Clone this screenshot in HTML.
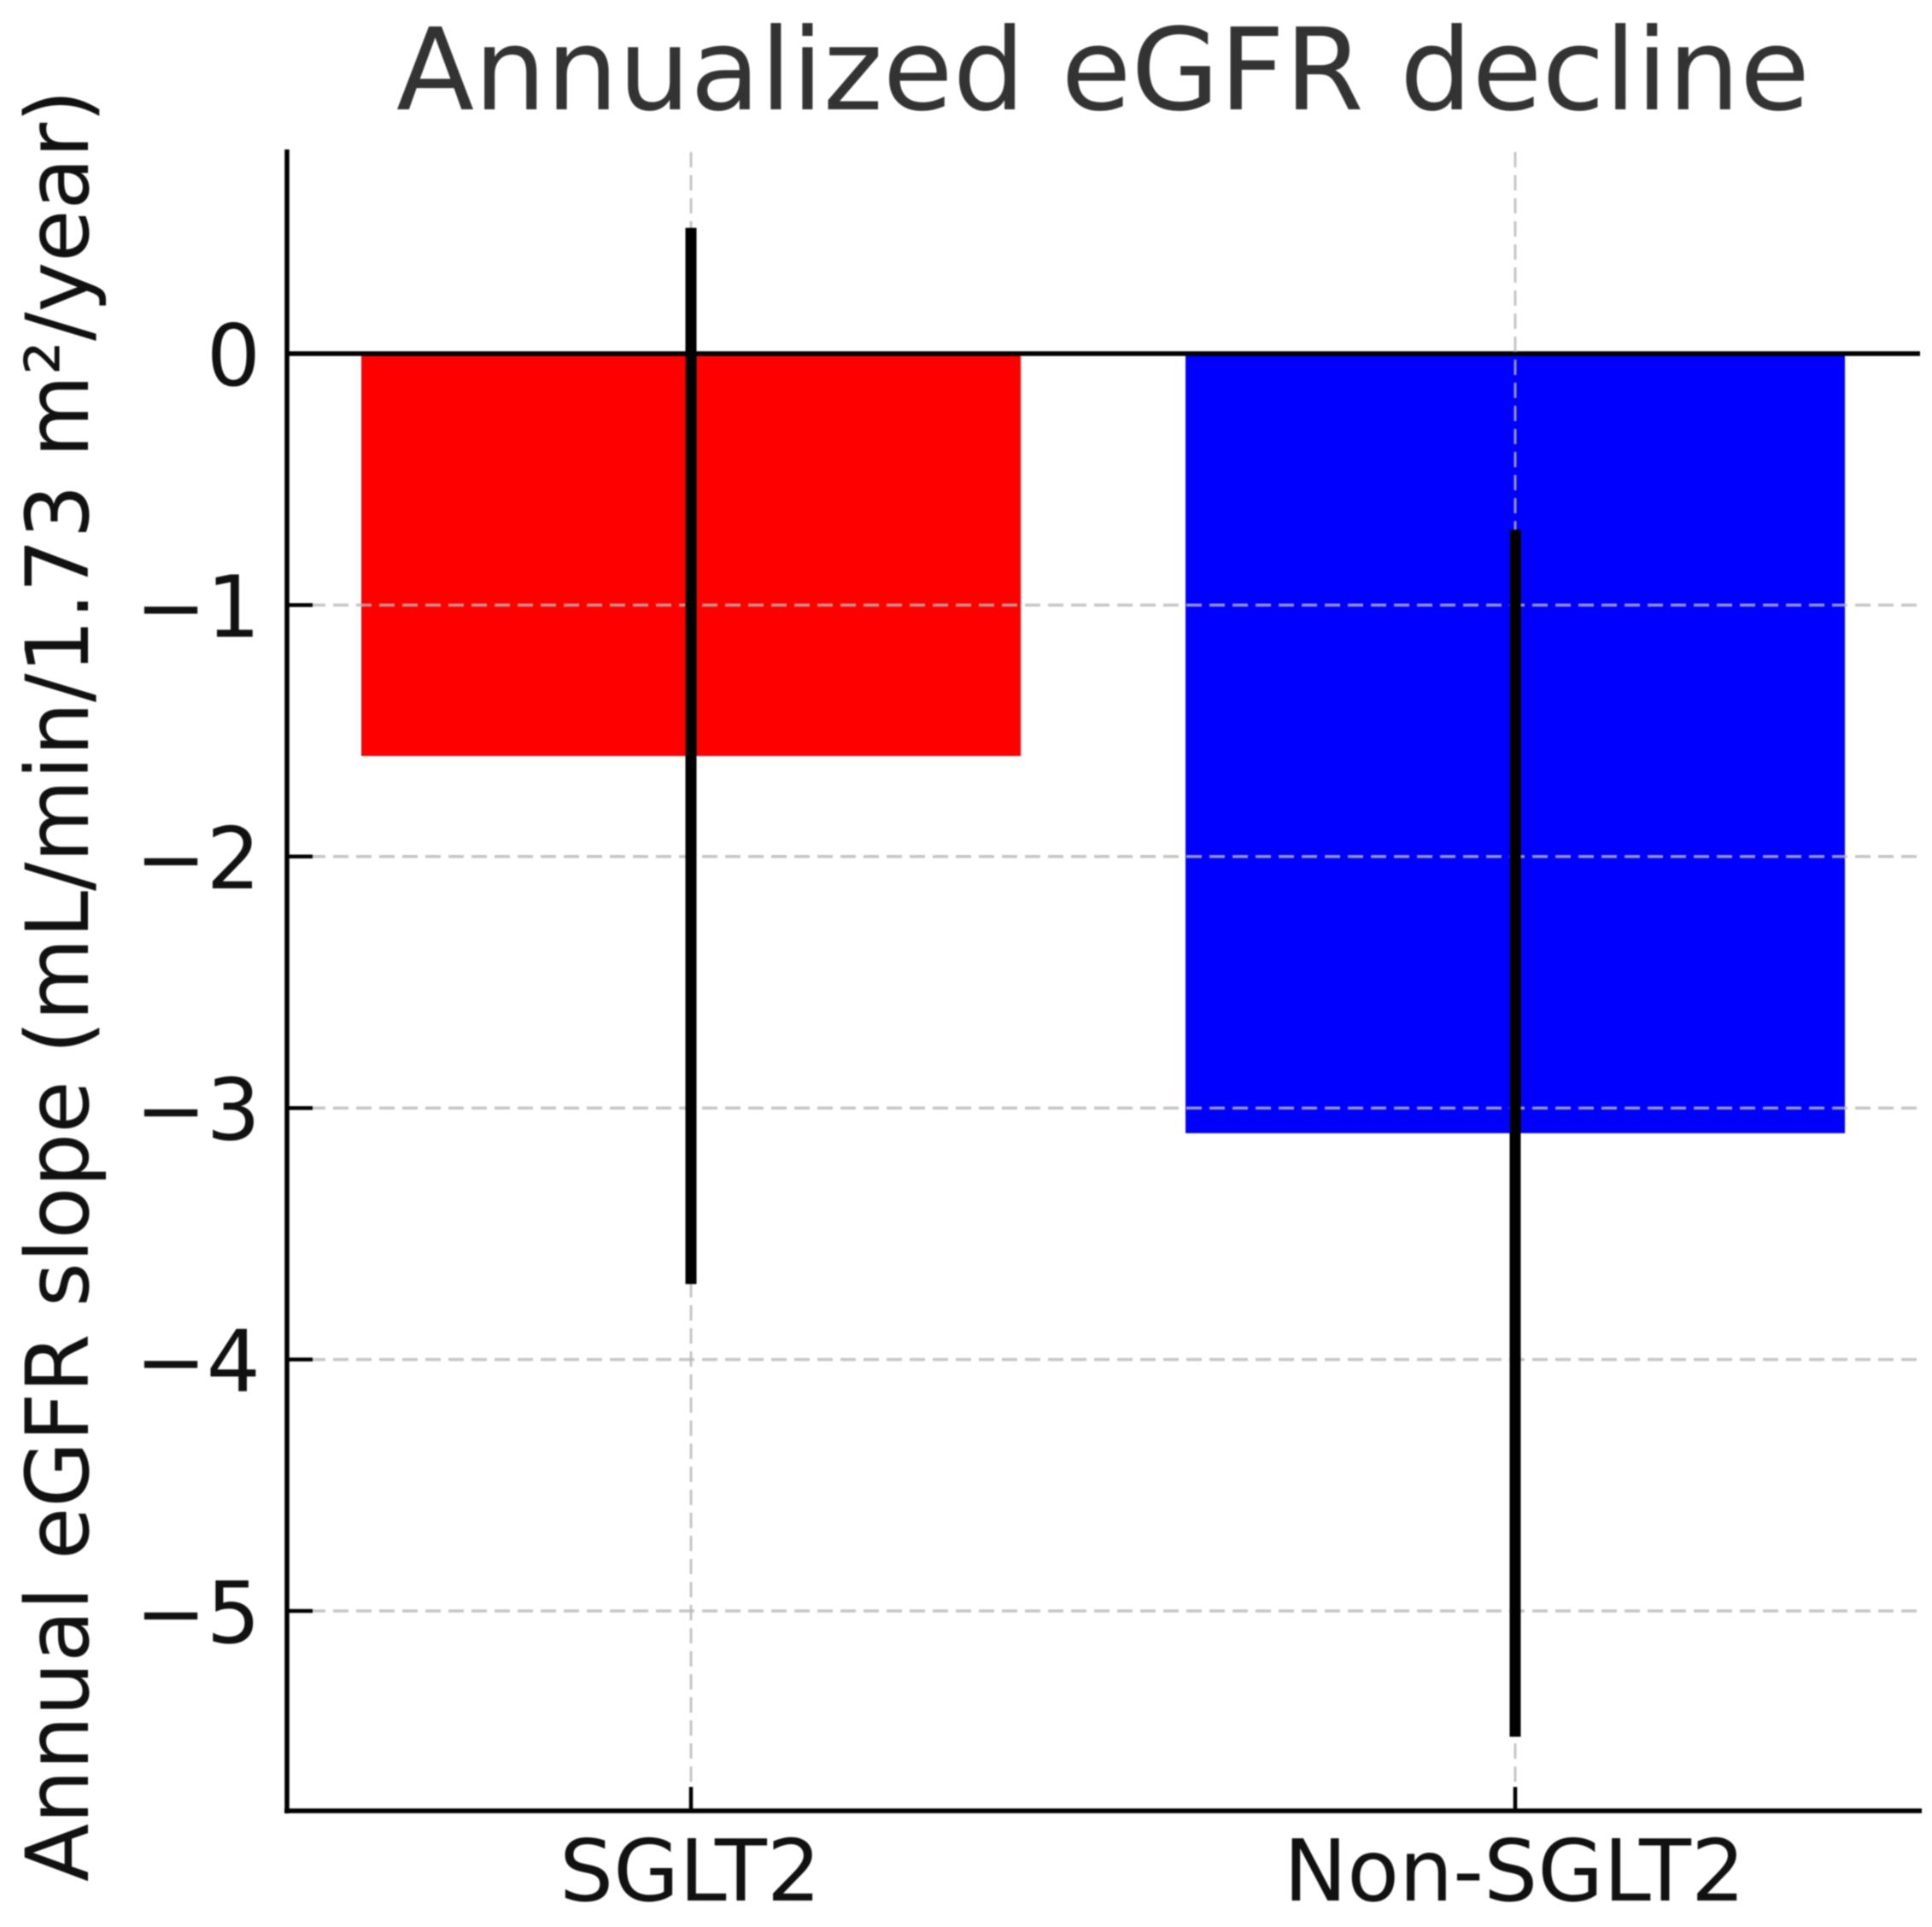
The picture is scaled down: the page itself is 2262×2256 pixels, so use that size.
<!DOCTYPE html>
<html lang="en">
<head>
<meta charset="utf-8">
<title>Annualized eGFR decline</title>
<style>
html,body{margin:0;padding:0;background:#fff;}
svg{display:block;filter:blur(0.7px);}
text{font-family:"DejaVu Sans","Liberation Sans",sans-serif;}
</style>
</head>
<body>
<svg id="chart" xmlns="http://www.w3.org/2000/svg" width="2262" height="2256" viewBox="0 0 2262 2256">
  <rect x="0" y="0" width="2262" height="2256" fill="#ffffff"/>
  <g id="bars"></g>
  <line x1="336" y1="414" x2="2248" y2="414" stroke="#000" stroke-width="5.5"/>
  <g id="grid"></g>
  <g id="errors"></g>
  <g id="ticks"></g>
  <line x1="336" y1="175" x2="336" y2="2123" stroke="#000" stroke-width="5.5"/>
  <line x1="333" y1="2120" x2="2250" y2="2120" stroke="#000" stroke-width="5.5"/>
  <g id="labels"></g>
  <text x="464" y="128" font-size="133" fill="#333333" textLength="1655" lengthAdjust="spacingAndGlyphs">Annualized eGFR decline</text>
  <text transform="translate(103,2203) rotate(-90)" x="0" y="0" font-size="102" fill="#111111" textLength="2098" lengthAdjust="spacingAndGlyphs">Annual eGFR slope (mL/min/1.73 m²/year)</text>
</svg>
<script>
const categories = ['SGLT2', 'Non-SGLT2'];
const slopeValues = [-1.6, -3.1];
const errorLow = [-3.7, -5.5];
const errorHigh = [0.5, -0.7];
const barColors = ['#ff0000', '#0000ff'];
const yTickValues = [0, -1, -2, -3, -4, -5];
const yTickLabels = ['0', '\u22121', '\u22122', '\u22123', '\u22124', '\u22125'];

const NS = 'http://www.w3.org/2000/svg';
const plotLeft = 336, plotRight = 2250, plotTop = 178, plotBottom = 2120;
const barWidthUnits = 0.8;

function xScale(i) { return 809 + 965 * i; }
function yScale(v) { return 414 - 294.4 * v; }

function make(tag, attrs, parent) {
  const el = document.createElementNS(NS, tag);
  for (const k in attrs) el.setAttribute(k, attrs[k]);
  parent.appendChild(el);
  return el;
}

const barsG = document.getElementById('bars');
const gridG = document.getElementById('grid');
const errorsG = document.getElementById('errors');
const ticksG = document.getElementById('ticks');
const labelsG = document.getElementById('labels');

categories.forEach(function (cat, i) {
  const halfW = barWidthUnits / 2 * 965;
  const y0 = yScale(0), y1 = yScale(slopeValues[i]);
  const bar = make('rect', {
    x: xScale(i) - halfW, y: Math.min(y0, y1),
    width: halfW * 2, height: Math.abs(y1 - y0), fill: barColors[i]
  }, barsG);
  
  

  const grid = make('line', {
    x1: xScale(i), x2: xScale(i), y1: plotTop, y2: plotBottom,
    stroke: '#b8b8b8', 'stroke-opacity': 0.8, 'stroke-width': 3, 'stroke-dasharray': '18 9'
  }, gridG);
  
  

  const err = make('line', {
    x1: xScale(i), x2: xScale(i), y1: yScale(errorHigh[i]), y2: yScale(errorLow[i]),
    stroke: '#000', 'stroke-width': 13
  }, errorsG);
  
  

  const tick = make('line', {
    x1: xScale(i), x2: xScale(i), y1: plotBottom - 28, y2: plotBottom,
    stroke: '#000', 'stroke-width': 4.5
  }, ticksG);
  
  

  const label = make('text', {
    x: xScale(i) - 1, y: 2225, 'text-anchor': 'middle', 'font-size': 99.5, fill: '#111111'
  }, labelsG);
  label.textContent = cat;
  
  
});

yTickValues.forEach(function (v, i) {
  if (v !== 0) {
    const grid = make('line', {
      x1: plotLeft, x2: plotRight, y1: yScale(v), y2: yScale(v),
      stroke: '#b8b8b8', 'stroke-opacity': 0.8, 'stroke-width': 3.5, 'stroke-dasharray': '18 9'
    }, gridG);
    
    

    const tick = make('line', {
      x1: plotLeft, x2: plotLeft + 30, y1: yScale(v), y2: yScale(v),
      stroke: '#000', 'stroke-width': 4.5
    }, ticksG);
    
    
  }

  const label = make('text', {
    x: 305, y: yScale(v) + 37, 'text-anchor': 'end', 'font-size': 99.5, fill: '#111111'
  }, labelsG);
  label.textContent = yTickLabels[i];
  
  
});
</script>
</body>
</html>
